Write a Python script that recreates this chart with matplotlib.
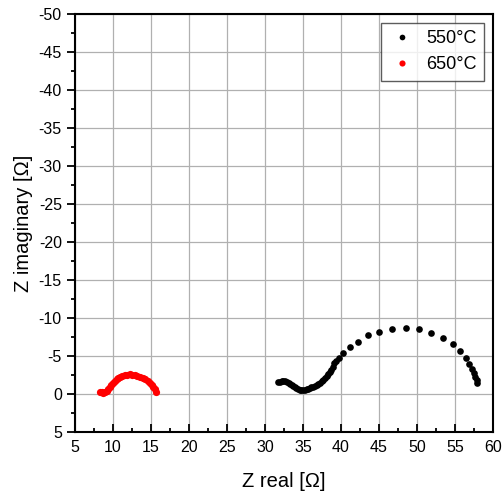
import matplotlib.pyplot as plt
from matplotlib.ticker import MultipleLocator

plt.rcParams['font.family'] = ['Liberation Sans', 'DejaVu Sans']
plt.rcParams['axes.unicode_minus'] = False

# 550 C impedance data (Z real, Z imaginary)
zre_550 = [31.75, 32.0, 32.2, 32.4, 32.6, 32.85, 33.1, 33.3, 33.5, 33.7, 33.9, 34.15,
           34.4, 34.6, 34.8, 35.05, 35.3, 35.5, 35.7, 35.9, 36.1, 36.35, 36.6, 36.8,
           37.0, 37.25, 37.5, 37.7, 37.9, 38.1, 38.3, 38.5, 38.7, 38.9, 39.1, 39.4,
           39.75, 40.3, 41.2, 42.3, 43.6, 45.0, 46.7, 48.5, 50.3, 51.9, 53.4, 54.7,
           55.7, 56.4, 56.9, 57.3, 57.5, 57.7, 57.85, 57.9]
zim_550 = [-1.54, -1.62, -1.67, -1.68, -1.67, -1.6, -1.5, -1.38, -1.23, -1.06, -0.88, -0.74,
           -0.61, -0.56, -0.53, -0.54, -0.57, -0.63, -0.7, -0.79, -0.88, -0.96, -1.05, -1.17,
           -1.3, -1.48, -1.67, -1.86, -2.06, -2.32, -2.6, -2.88, -3.16, -3.6, -4.03, -4.4,
           -4.69, -5.44, -6.2, -6.9, -7.7, -8.2, -8.6, -8.7, -8.5, -8.0, -7.4, -6.6,
           -5.7, -4.8, -4.0, -3.25, -2.7, -2.3, -1.85, -1.4]

# 650 C impedance data
zre_650 = [8.3, 8.5, 8.7, 8.95, 9.2, 9.4, 9.6, 9.8, 10.0, 10.25, 10.5, 10.7, 10.9, 11.25,
           11.6, 11.9, 12.2, 12.55, 12.9, 13.2, 13.55, 13.9, 14.2, 14.55, 14.9, 15.1,
           15.3, 15.5, 15.66]
zim_650 = [-0.3, -0.2, -0.1, -0.25, -0.43, -0.7, -0.96, -1.23, -1.5, -1.75, -1.97, -2.13,
           -2.28, -2.4, -2.5, -2.56, -2.59, -2.56, -2.5, -2.4, -2.28, -2.12, -1.93, -1.68,
           -1.4, -1.15, -0.88, -0.6, -0.3]

fig = plt.figure(figsize=(5.03, 5.0), dpi=100)
ax = fig.add_axes([0.149, 0.136, 0.831, 0.836])

ax.plot(zre_550, zim_550, 'o', color='black', ms=4.8, mew=0, label='550°C')
ax.plot(zre_650, zim_650, 'o', color='red', ms=5.2, mew=0, label='650°C')

ax.set_xlim(5, 60)
ax.set_ylim(5, -50)
ax.xaxis.set_major_locator(MultipleLocator(5))
ax.xaxis.set_minor_locator(MultipleLocator(2.5))
ax.yaxis.set_major_locator(MultipleLocator(5))
ax.yaxis.set_minor_locator(MultipleLocator(2.5))
ax.grid(True, which='major', color='#b0b0b0', lw=0.9)
ax.set_axisbelow(True)

ax.tick_params(axis='x', which='major', direction='in', length=6, width=1.3, labelsize=11.5, pad=6)
ax.tick_params(axis='x', which='minor', direction='in', length=3, width=1.3)
ax.tick_params(axis='y', which='major', direction='out', length=6, width=1.3, labelsize=11.5)
ax.tick_params(axis='y', which='minor', direction='out', length=3, width=1.3)
for s in ax.spines.values():
    s.set_linewidth(1.5)

ax.set_xlabel('Z real [Ω]', fontsize=14.5, labelpad=12)
ax.set_ylabel('Z imaginary [Ω]', fontsize=14.5, labelpad=4)

leg = ax.legend(loc='upper right', fontsize=13, fancybox=False, edgecolor='#333333',
                markerscale=0.85, handletextpad=0.6, borderpad=0.4, handlelength=1.5)
leg.get_frame().set_linewidth(1.0)

fig.savefig('out.png', dpi=100)
